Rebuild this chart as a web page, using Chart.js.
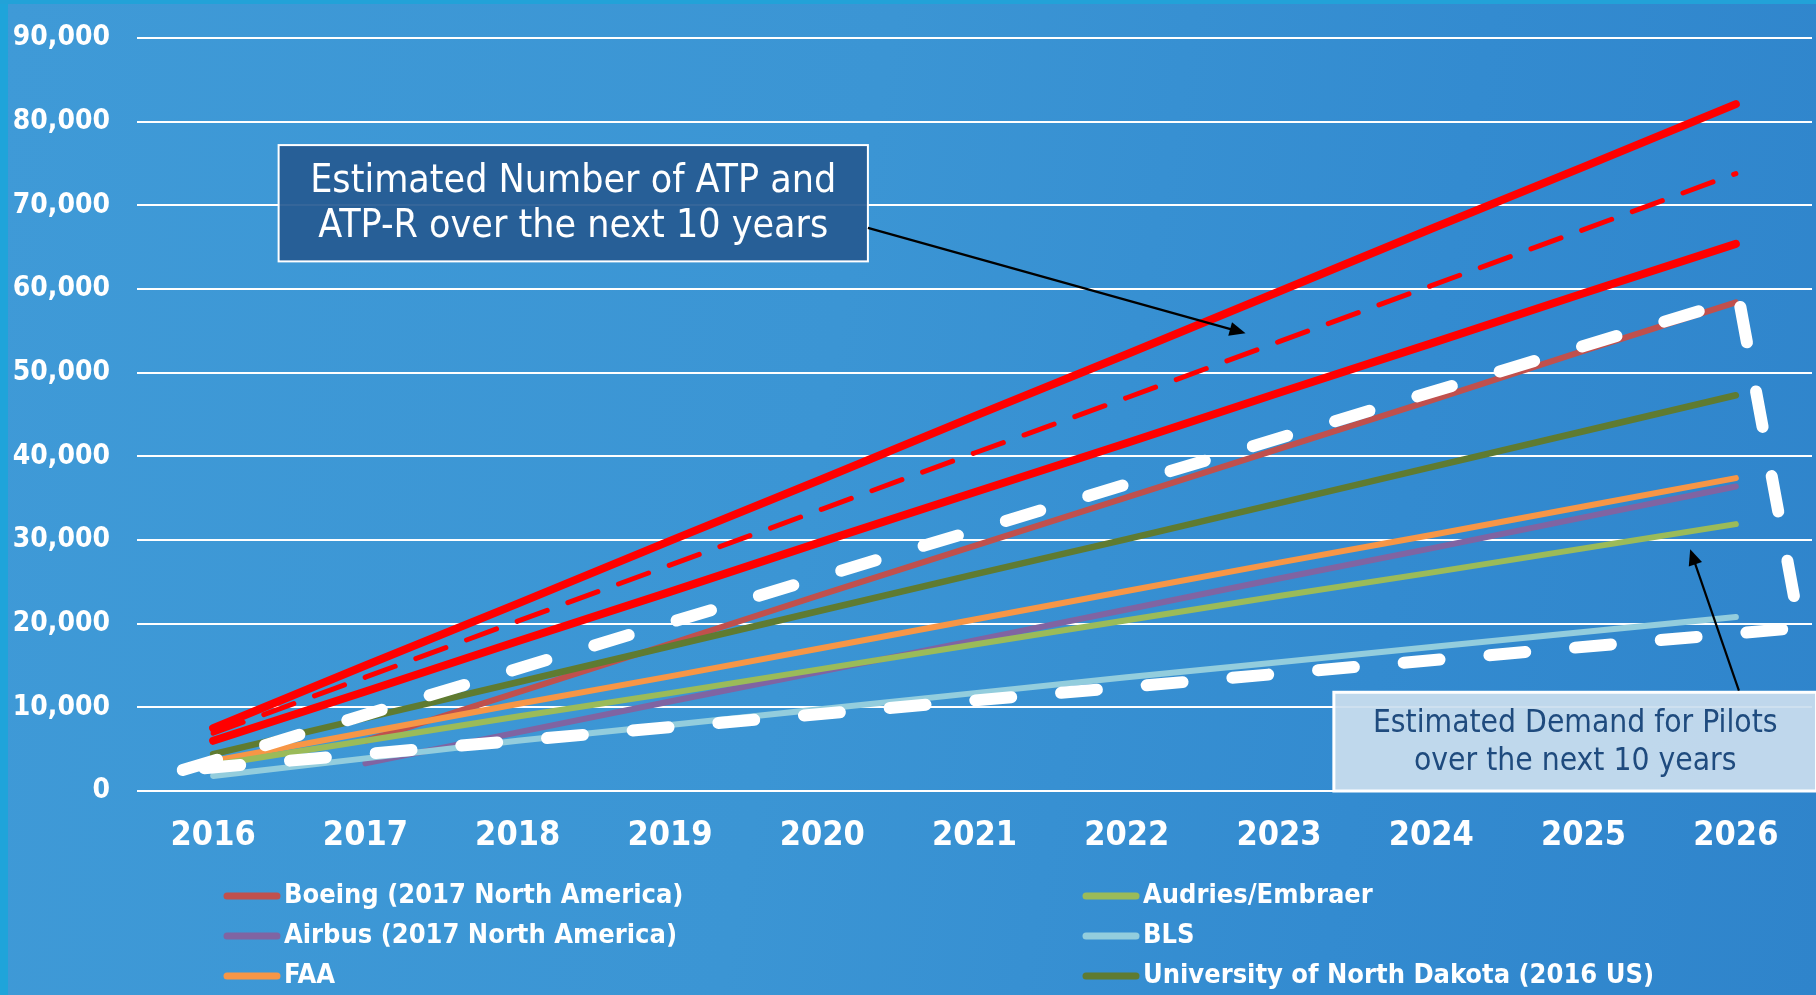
<!DOCTYPE html>
<html>
<head>
<meta charset="utf-8">
<title>Pilot supply and demand</title>
<script src="https://cdn.jsdelivr.net/npm/chart.js@4.4.1/dist/chart.umd.min.js"></script>
<style>
html, body { margin: 0; padding: 0; }
body {
    width: 1816px;
    height: 995px;
    overflow: hidden;
    position: relative;
    background: linear-gradient(100deg, #3f9ad7 0%, #3b95d4 45%, #338bd0 75%, #2f84cb 100%);
}
#edgeLeft { position: absolute; left: 0; top: 0; width: 8px; height: 995px; background: #1fa4da; }
#edgeTop { position: absolute; left: 0; top: 0; width: 1816px; height: 4px; background: #22a2d8; }
#wrap { position: absolute; left: 0; top: 0; width: 1816px; height: 995px; }
</style>
</head>
<body>
<div id="edgeLeft"></div>
<div id="edgeTop"></div>
<div id="wrap"><canvas id="myChart" width="1816" height="995"></canvas></div>
<script>
const years = [2016, 2017, 2018, 2019, 2020, 2021, 2022, 2023, 2024, 2025, 2026];
const yTicks = [0, 10000, 20000, 30000, 40000, 50000, 60000, 70000, 80000, 90000];

// demand forecasts (legend series)
const boeing  = [null, 6000, 11800, 17600, 23500, 29300, 35100, 40900, 46700, 52600, 58400];
const airbus  = [null, 3300, 7000, 10700, 14300, 18000, 21700, 25400, 29000, 32700, 36400];
const faa     = [3600, 7000, 10400, 13700, 17100, 20500, 23900, 27300, 30600, 34000, 37400];
const audries = [3100, 6000, 8900, 11700, 14600, 17500, 20400, 23300, 26100, 29000, 31900];
const bls     = [1800, 3900, 6000, 7900, 9800, 11700, 13600, 15400, 17200, 19000, 20800];
const und     = [4400, 8700, 13000, 17300, 21600, 25900, 30100, 34400, 38700, 43000, 47300];

// ATP / ATP-R estimates (red, not in legend)
const atpHigh = [7500, 15000, 22400, 29900, 37300, 44800, 52200, 59700, 67200, 74600, 82100];
const atpMid  = [6900, 13600, 20300, 27000, 33700, 40400, 47000, 53700, 60400, 67100, 73800];
const atpLow  = [6000, 11900, 17900, 23800, 29800, 35700, 41600, 47600, 53500, 59500, 65400];

// white dashed wedge around the demand range
const wedgeYears  = [2015.8, 2026.02, 2026.42, 2015.8];
const wedgeValues = [2500, 58800, 19500, 2500];

function pts(xs, ys) {
    return xs.map((x, i) => ({ x: x, y: ys[i] }));
}

const legendItems = [
    { label: 'Boeing (2017 North America)', color: '#c0504d', col: 0, row: 0 },
    { label: 'Airbus (2017 North America)', color: '#8064a2', col: 0, row: 1 },
    { label: 'FAA', color: '#f79646', col: 0, row: 2 },
    { label: 'Audries/Embraer', color: '#9bbb59', col: 1, row: 0 },
    { label: 'BLS', color: '#93cddd', col: 1, row: 1 },
    { label: 'University of North Dakota (2016 US)', color: '#5f7b31', col: 1, row: 2 }
];

function series(label, data, color, width, order, dash) {
    return {
        label: label,
        data: pts(years, data),
        borderColor: color,
        backgroundColor: color,
        borderWidth: width,
        borderDash: dash || [],
        borderCapStyle: 'round',
        pointRadius: 0,
        tension: 0,
        spanGaps: false,
        order: order
    };
}

const legendPlugin = {
    id: 'sideLegend',
    afterDraw(chart) {
        const ctx = chart.ctx;
        const colX = [224, 1083];
        const rowY = [896, 936, 976];
        ctx.save();
        ctx.font = 'bold 27px "DejaVu Sans Condensed"';
        ctx.textBaseline = 'middle';
        ctx.textAlign = 'left';
        legendItems.forEach(item => {
            const x = colX[item.col];
            const y = rowY[item.row];
            ctx.strokeStyle = item.color;
            ctx.lineWidth = 7;
            ctx.lineCap = 'round';
            ctx.beginPath();
            ctx.moveTo(x + 3, y);
            ctx.lineTo(x + 53, y);
            ctx.stroke();
            ctx.fillStyle = '#ffffff';
            ctx.fillText(item.label, x + 60, y);
        });
        ctx.restore();
    }
};

function drawArrow(ctx, x1, y1, x2, y2) {
    const ang = Math.atan2(y2 - y1, x2 - x1);
    const head = 16;
    ctx.strokeStyle = '#000000';
    ctx.fillStyle = '#000000';
    ctx.lineWidth = 2.2;
    ctx.beginPath();
    ctx.moveTo(x1, y1);
    ctx.lineTo(x2 - Math.cos(ang) * head * 0.8, y2 - Math.sin(ang) * head * 0.8);
    ctx.stroke();
    ctx.beginPath();
    ctx.moveTo(x2, y2);
    ctx.lineTo(x2 - head * Math.cos(ang) + 7 * Math.sin(ang), y2 - head * Math.sin(ang) - 7 * Math.cos(ang));
    ctx.lineTo(x2 - head * Math.cos(ang) - 7 * Math.sin(ang), y2 - head * Math.sin(ang) + 7 * Math.cos(ang));
    ctx.closePath();
    ctx.fill();
}

const calloutPlugin = {
    id: 'callouts',
    afterDatasetsDraw(chart) {
        const ctx = chart.ctx;
        const xs = chart.scales.x;
        const ys = chart.scales.y;
        ctx.save();

        // ATP box
        let l = xs.getPixelForValue(2016.43), r = xs.getPixelForValue(2020.30);
        let t = ys.getPixelForValue(77200), b = ys.getPixelForValue(63300);
        ctx.fillStyle = 'rgba(38, 90, 146, 0.93)';
        ctx.fillRect(l, t, r - l, b - t);
        ctx.strokeStyle = '#ffffff';
        ctx.lineWidth = 2;
        ctx.strokeRect(l, t, r - l, b - t);
        ctx.fillStyle = '#ffffff';
        ctx.font = '39px "DejaVu Sans Condensed"';
        ctx.textAlign = 'center';
        ctx.textBaseline = 'middle';
        ctx.fillText('Estimated Number of ATP and', (l + r) / 2, (t + b) / 2 - 21);
        ctx.fillText('ATP-R over the next 10 years', (l + r) / 2, (t + b) / 2 + 24);
        drawArrow(ctx, r, ys.getPixelForValue(67300), xs.getPixelForValue(2022.78), ys.getPixelForValue(54700));

        // demand box
        l = xs.getPixelForValue(2023.36); r = xs.getPixelForValue(2026.53);
        t = ys.getPixelForValue(11800); b = ys.getPixelForValue(0);
        ctx.fillStyle = 'rgba(202, 222, 238, 0.93)';
        ctx.fillRect(l, t, r - l, b - t);
        ctx.strokeStyle = '#ffffff';
        ctx.lineWidth = 3;
        ctx.strokeRect(l, t, r - l, b - t);
        ctx.fillStyle = '#1f4b7e';
        ctx.font = '31.5px "DejaVu Sans Condensed"';
        ctx.fillText('Estimated Demand for Pilots', (l + r) / 2, (t + b) / 2 - 18);
        ctx.fillText('over the next 10 years', (l + r) / 2, (t + b) / 2 + 20);
        drawArrow(ctx, xs.getPixelForValue(2026.02), ys.getPixelForValue(12000), xs.getPixelForValue(2025.70), ys.getPixelForValue(28900));

        ctx.restore();
    }
};

const ctx = document.getElementById('myChart').getContext('2d');
const chart = new Chart(ctx, {
    type: 'line',
    data: {
        datasets: [
            {
                label: 'Demand range',
                data: pts(wedgeYears, wedgeValues),
                borderColor: '#ffffff',
                borderWidth: 12,
                borderDash: [36, 50],
                borderCapStyle: 'round',
                borderJoinStyle: 'round',
                pointRadius: 0,
                tension: 0,
                clip: false,
                order: 0
            },
            series('ATP high', atpHigh, '#ff0000', 8, 1),
            series('ATP mid', atpMid, '#ff0000', 5, 2, [32, 22]),
            series('ATP low', atpLow, '#ff0000', 8, 3),
            series('University of North Dakota (2016 US)', und, '#5f7b31', 6.5, 4),
            series('BLS', bls, '#93cddd', 6, 5),
            series('Audries/Embraer', audries, '#9bbb59', 6, 6),
            series('FAA', faa, '#f79646', 6, 7),
            series('Airbus (2017 North America)', airbus, '#8064a2', 6, 8),
            series('Boeing (2017 North America)', boeing, '#c0504d', 6, 9)
        ]
    },
    options: {
        responsive: false,
        animation: false,
        layout: { padding: { left: 0, top: 38, right: 4, bottom: 0 } },
        plugins: {
            legend: { display: false },
            tooltip: { enabled: false }
        },
        scales: {
            x: {
                type: 'linear',
                min: 2015.5,
                max: 2026.5,
                grid: { display: false },
                border: { display: false },
                afterBuildTicks: function(scale) {
                    scale.ticks = years.map(v => ({ value: v }));
                },
                afterFit: function(scale) {
                    scale.height = 204;
                },
                ticks: {
                    color: '#ffffff',
                    padding: 17,
                    maxRotation: 0,
                    autoSkip: false,
                    font: { family: '"DejaVu Sans Condensed"', size: 34, weight: 'bold' },
                    callback: function(value) {
                        return String(value);
                    }
                }
            },
            y: {
                min: 0,
                max: 90000,
                afterBuildTicks: function(scale) {
                    scale.ticks = yTicks.map(v => ({ value: v }));
                },
                afterFit: function(scale) {
                    scale.width = 137;
                    // the label padding should not push the plot area down
                    scale.paddingTop = 0;
                    scale.paddingBottom = 0;
                },
                grid: { color: '#ffffff', lineWidth: 2, drawTicks: false },
                border: { display: false },
                ticks: {
                    color: '#ffffff',
                    padding: 27,
                    font: { family: '"DejaVu Sans Condensed"', size: 28, weight: 'bold' },
                    callback: function(value) {
                        return value.toLocaleString('en-US');
                    }
                }
            }
        }
    },
    plugins: [calloutPlugin, legendPlugin]
});
</script>
</body>
</html>
